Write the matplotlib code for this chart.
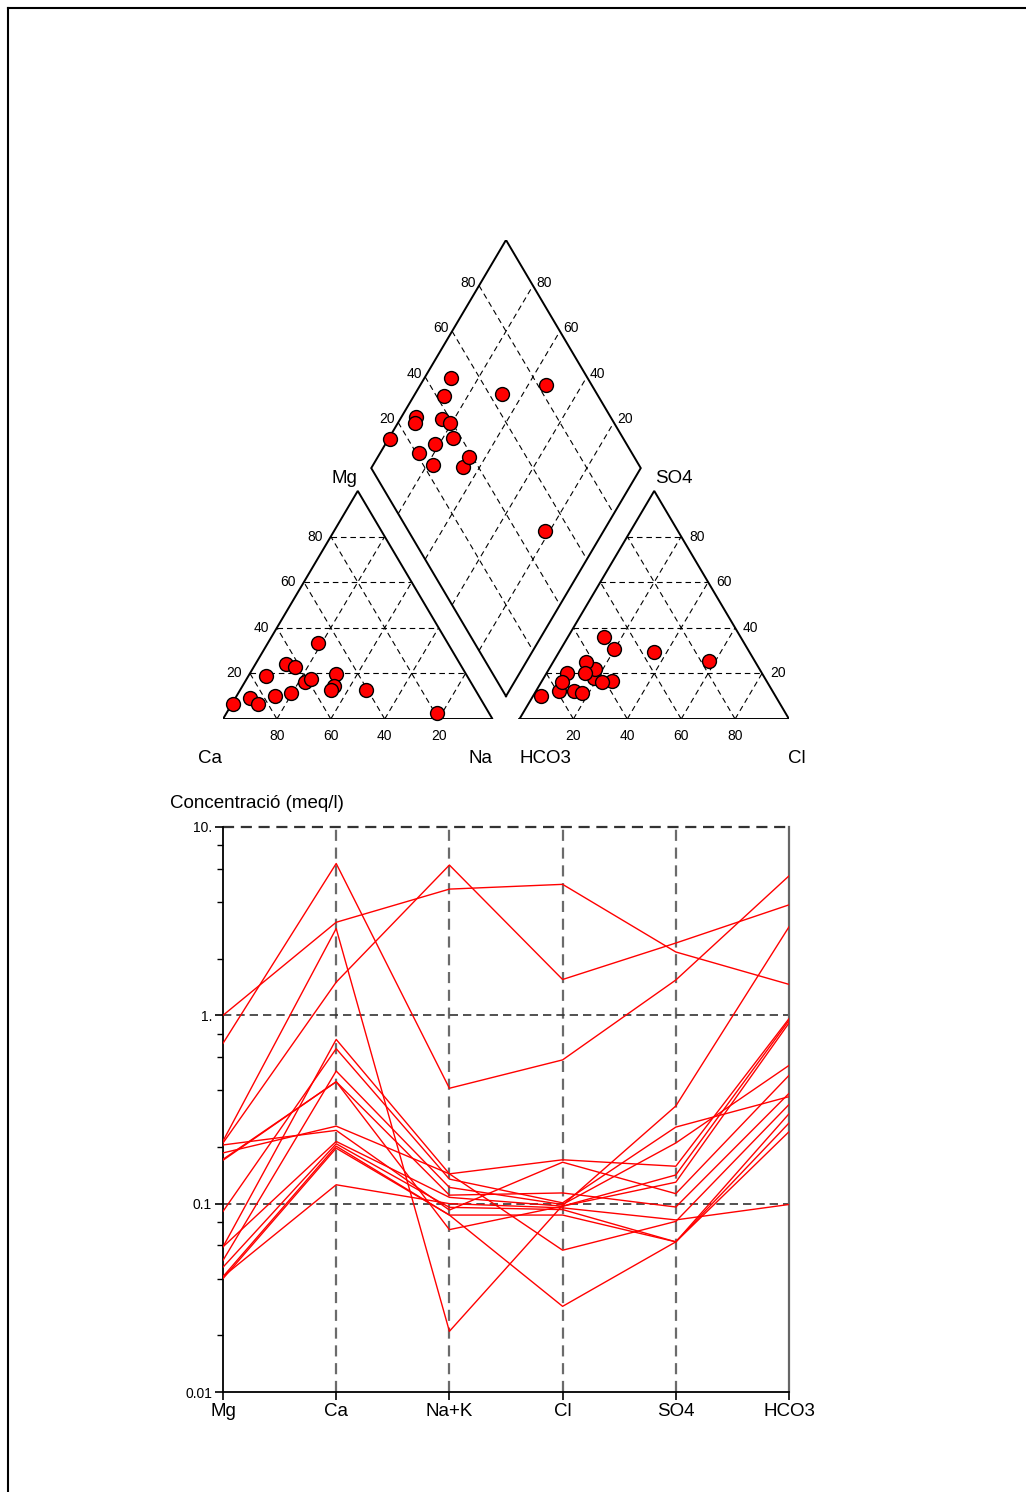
import numpy as np
import matplotlib
matplotlib.use("Agg")
import matplotlib.pyplot as plt
from matplotlib.lines import Line2D

plt.rcParams['font.family'] = ['Liberation Sans', 'DejaVu Sans']

# ---- Piper data (percent of meq) ----
mg_pct = [6.6, 9.4, 6.6, 18.7, 10.0, 24.3, 22.9, 11.6, 16.2, 17.6, 33.5, 19.6, 14.3, 12.8, 12.8, 2.8]
na_pct = [0.5, 5.3, 9.8, 6.6, 14.4, 11.2, 15.4, 19.4, 22.4, 23.8, 18.4, 32.2, 34.0, 33.6, 46.6, 78.1]
so4_pct = [10.2, 20.2, 35.8, 12.3, 12.3, 16.7, 18.1, 22.1, 16.2, 24.9, 11.4, 29.5, 20.2, 16.2, 25.4, 30.8]
cl_pct = [2.9, 7.7, 13.6, 13.9, 8.5, 25.9, 18.7, 17.0, 7.6, 12.1, 17.6, 35.1, 14.1, 22.4, 57.7, 19.8]

# ---- Schoeller data (meq/l) ----
ions = ['Mg', 'Ca', 'Na+K', 'Cl', 'SO4', 'HCO3']
mg = [1.0, 0.21, 0.71, 0.215, 0.059, 0.091, 0.050, 0.172, 0.170, 0.186, 0.205, 0.059, 0.046, 0.041, 0.040, 0.041]
ca = [3.12, 1.5, 6.4, 2.89, 0.745, 0.665, 0.506, 0.444, 0.444, 0.258, 0.245, 0.214, 0.208, 0.202, 0.197, 0.126]
nak = [4.68, 6.28, 0.41, 0.021, 0.144, 0.135, 0.122, 0.111, 0.0728, 0.144, 0.0925, 0.108, 0.0956, 0.087, 0.087, 0.100]
cl = [4.96, 1.55, 0.58, 0.098, 0.171, 0.101, 0.099, 0.114, 0.097, 0.0566, 0.166, 0.097, 0.093, 0.087, 0.0285, 0.095]
so4 = [2.17, 2.42, 1.54, 0.33, 0.158, 0.255, 0.21, 0.096, 0.13, 0.0805, 0.113, 0.142, 0.0627, 0.0627, 0.0627, 0.082]
hco3 = [1.46, 3.86, 5.5, 2.95, 0.96, 0.37, 0.542, 0.385, 0.91, 0.336, 0.48, 0.94, 0.30, 0.241, 0.268, 0.099]

W, H = 1026, 1492
fig = plt.figure(figsize=(W / 100, H / 100), dpi=100)

# page frame
fig.add_artist(Line2D([8 / W, 1], [1 - 8 / H, 1 - 8 / H], color='black', lw=1.5, transform=fig.transFigure))
fig.add_artist(Line2D([8 / W, 8 / W], [0, 1 - 8 / H], color='black', lw=1.5, transform=fig.transFigure))

# ================= Piper =================
h = np.sqrt(3) / 2
ax = fig.add_axes([223 / W, (H - 719) / H, 566 / W, 479 / H])
ax.set_xlim(0, 210)
ax.set_ylim(0, 5 * np.sqrt(3) + 200 * h)
ax.axis('off')


def cat_xy(m, n):
    return n + m / 2, m * h


def an_xy(s, c):
    return 110 + c + s / 2, s * h


def dia_xy(n, hc):
    return 105 + 0.5 * (n - hc), 5 * np.sqrt(3) + h * (200 - n - hc)


dash = dict(color='black', lw=0.8, ls=(0, (5, 3.5)))
solid = dict(color='black', lw=1.4, solid_joinstyle='miter')

# outlines
ax.plot([0, 100, 50, 0], [0, 0, 100 * h, 0], **solid)
ax.plot([110, 210, 160, 110], [0, 0, 100 * h, 0], **solid)
dx = [dia_xy(100, 100), dia_xy(0, 100), dia_xy(0, 0), dia_xy(100, 0), dia_xy(100, 100)]
ax.plot([p[0] for p in dx], [p[1] for p in dx], **solid)

for v in [20, 40, 60, 80]:
    # cation triangle
    ax.plot([v / 2, 100 - v / 2], [v * h, v * h], **dash)
    ax.plot([v, v + (100 - v) / 2], [0, (100 - v) * h], **dash)
    ax.plot([100 - v, (100 - v) / 2], [0, (100 - v) * h], **dash)
    # anion triangle
    ax.plot([110 + v / 2, 210 - v / 2], [v * h, v * h], **dash)
    ax.plot([110 + v, 110 + v + (100 - v) / 2], [0, (100 - v) * h], **dash)
    ax.plot([210 - v, 110 + (100 - v) / 2], [0, (100 - v) * h], **dash)
    # diamond
    a, b = dia_xy(v, 100), dia_xy(v, 0)
    ax.plot([a[0], b[0]], [a[1], b[1]], **dash)
    a, b = dia_xy(0, v), dia_xy(100, v)
    ax.plot([a[0], b[0]], [a[1], b[1]], **dash)

tk = dict(fontsize=10, textcoords='offset pixels', annotation_clip=False)
for v in [20, 40, 60, 80]:
    ax.annotate(str(v), cat_xy(v, 0), xytext=(-8, 0), ha='right', va='center', **tk)
    ax.annotate(str(100 - v), (v, 0), xytext=(0, -17), ha='center', va='center', **tk)
    ax.annotate(str(v), (110 + v, 0), xytext=(0, -17), ha='center', va='center', **tk)
    ax.annotate(str(v), an_xy(v, 100 - v), xytext=(8, 0), ha='left', va='center', **tk)
    ax.annotate(str(v), dia_xy(0, 100 - v), xytext=(-3, 3), ha='right', va='center', **tk)
    ax.annotate(str(v), dia_xy(100 - v, 0), xytext=(3, 3), ha='left', va='center', **tk)

lb = dict(fontsize=13.5, textcoords='offset pixels', annotation_clip=False, ha='center', va='center')
ax.annotate('Mg', (50, 100 * h), xytext=(-13, 12), **lb)
ax.annotate('SO4', (160, 100 * h), xytext=(20, 12), **lb)
ax.annotate('Ca', (0, 0), xytext=(-13, -39), **lb)
ax.annotate('Na', (100, 0), xytext=(-12, -39), **lb)
ax.annotate('HCO3', (110, 0), xytext=(26, -39), **lb)
ax.annotate('Cl', (210, 0), xytext=(8, -39), **lb)

mg_a = np.array(mg_pct)
na_a = np.array(na_pct)
so4_a = np.array(so4_pct)
cl_a = np.array(cl_pct)
hc_a = 100 - so4_a - cl_a
mk = dict(s=100, c='red', edgecolors='black', linewidths=1.0, zorder=5, clip_on=False)
ax.scatter(*cat_xy(mg_a, na_a), **mk)
ax.scatter(*an_xy(so4_a, cl_a), **mk)
ax.scatter(*dia_xy(na_a, hc_a), **mk)

# ================= Schoeller =================
ax2 = fig.add_axes([223 / W, (H - 1392) / H, 566 / W, 565 / H])
ax2.set_yscale('log')
ax2.set_ylim(0.01, 10)
ax2.set_xlim(0, 5)
xs = np.arange(len(ions))
data = np.array([mg, ca, nak, cl, so4, hco3]).T
for row in data:
    ax2.plot(xs, row, color='#ff0000', lw=1.0, zorder=3)

for xv in xs[1:5]:
    ax2.axvline(xv, color='#6b6b6b', lw=1.6, ls=(0, (5, 3)), zorder=1)
for yv in [0.1, 1.0]:
    ax2.axhline(yv, color='#333333', lw=1.2, ls=(0, (5, 3)), zorder=1)
ax2.axhline(10, color='#333333', lw=1.6, ls=(0, (5, 3)), zorder=1, clip_on=False)

ax2.spines['top'].set_visible(False)
ax2.spines['right'].set_color('#666666')
ax2.spines['right'].set_linewidth(1.6)
ax2.spines['left'].set_linewidth(1.3)
ax2.spines['bottom'].set_linewidth(1.3)

ax2.set_xticks(xs)
ax2.set_xticklabels(ions, fontsize=13.5)
ax2.tick_params(axis='x', length=6, width=1.2, pad=2)
ax2.set_yticks([0.01, 0.1, 1, 10])
ax2.set_yticklabels(['0.01', '0.1', '1.', '10.'], fontsize=10)
minor = [m * 10.0 ** e for e in (-2, -1, 0) for m in (2, 4, 6, 8)]
ax2.set_yticks(minor, minor=True)
ax2.set_yticklabels([], minor=True)
ax2.tick_params(axis='y', which='major', length=6, width=1.2, pad=2)
ax2.tick_params(axis='y', which='minor', length=4, width=1.0)

fig.text(170 / W, 1 - 803 / H, 'Concentració (meq/l)', fontsize=13.5, ha='left', va='center')

fig.savefig('out.png', dpi=100)
